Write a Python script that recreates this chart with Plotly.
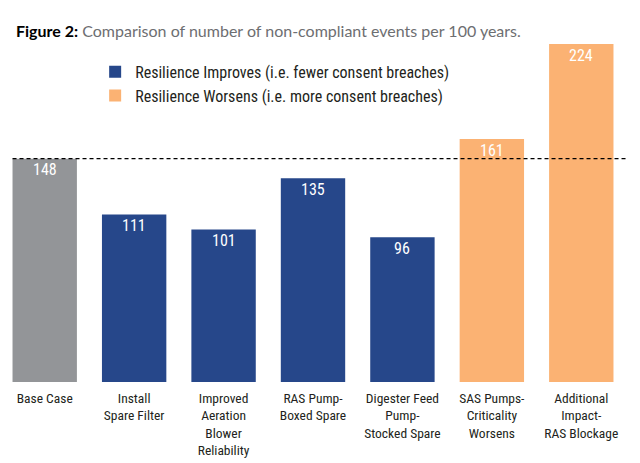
import plotly.graph_objects as go

categories = ["Base Case", "Install<br>Spare Filter", "Improved<br>Aeration<br>Blower<br>Reliability",
              "RAS Pump-<br>Boxed Spare", "Digester Feed<br>Pump-<br>Stocked Spare",
              "SAS Pumps-<br>Criticality<br>Worsens", "Additional<br>Impact-<br>RAS Blockage"]
base_cats = categories[:1]
base_vals = [148]
improve_cats = categories[1:5]
improve_vals = [111, 101, 135, 96]
worsen_cats = categories[5:]
worsen_vals = [161, 224]
baseline_ref = 148

NARROW = "Liberation Sans Narrow, Arial Narrow, Roboto Condensed, sans-serif"
GRAY = "#939598"
NAVY = "#26478a"
ORANGE = "#fbb273"

fig = go.Figure()
def add(cats, vals, color, name, show):
    fig.add_trace(go.Bar(x=cats, y=vals, name=name, showlegend=show,
                         marker=dict(color=color, line=dict(width=0))))
    for c, v in zip(cats, vals):
        fig.add_annotation(x=c, y=v, xref="x", yref="y", text=str(v), showarrow=False,
                           yanchor="middle", yshift=-11,
                           font=dict(family=NARROW, size=16, color="white"))
add(base_cats, base_vals, GRAY, "Base", False)
add(improve_cats, improve_vals, NAVY, "Resilience Improves (i.e. fewer consent breaches)", True)
add(worsen_cats, worsen_vals, ORANGE, "Resilience Worsens (i.e. more consent breaches)", True)

fig.add_shape(type="line", xref="paper", yref="y", x0=0.02, x1=1.0, y0=baseline_ref, y1=baseline_ref,
              line=dict(color="black", width=1.3, dash="4px,3px"))

fig.add_annotation(xref="paper", yref="paper", x=0.0, y=1.0, yshift=5, xanchor="left", yanchor="middle",
                   xshift=14, showarrow=False,
                   text="<b>Figure 2:</b> <span style='color:#6d6e71'>Comparison of number of non-compliant events per 100 years.</span>",
                   font=dict(family="Lato, Noto Sans, sans-serif", size=16, color="black"))

fig.update_layout(
    width=640, height=463,
    margin=dict(l=0, r=14, t=35, b=81),
    paper_bgcolor="white", plot_bgcolor="white",
    barmode="overlay", bargap=0.28,
    legend=dict(x=0.152, y=0.943, xanchor="left", yanchor="top",
                font=dict(family=NARROW, size=16, color="#231f20"),
                bgcolor="rgba(0,0,0,0)", tracegroupgap=0, itemwidth=30),
    xaxis=dict(categoryorder="array", categoryarray=categories, showline=False, ticks="",
               automargin=False, ticklabelstandoff=6,
               tickfont=dict(family=NARROW, size=13.5, color="#231f20"), showgrid=False),
    yaxis=dict(range=[0, 230], visible=False, showgrid=False, automargin=False),
    showlegend=True,
)
fig.write_html("out.html", config={"displayModeBar": False},
               post_script="document.body.style.margin='0';")
